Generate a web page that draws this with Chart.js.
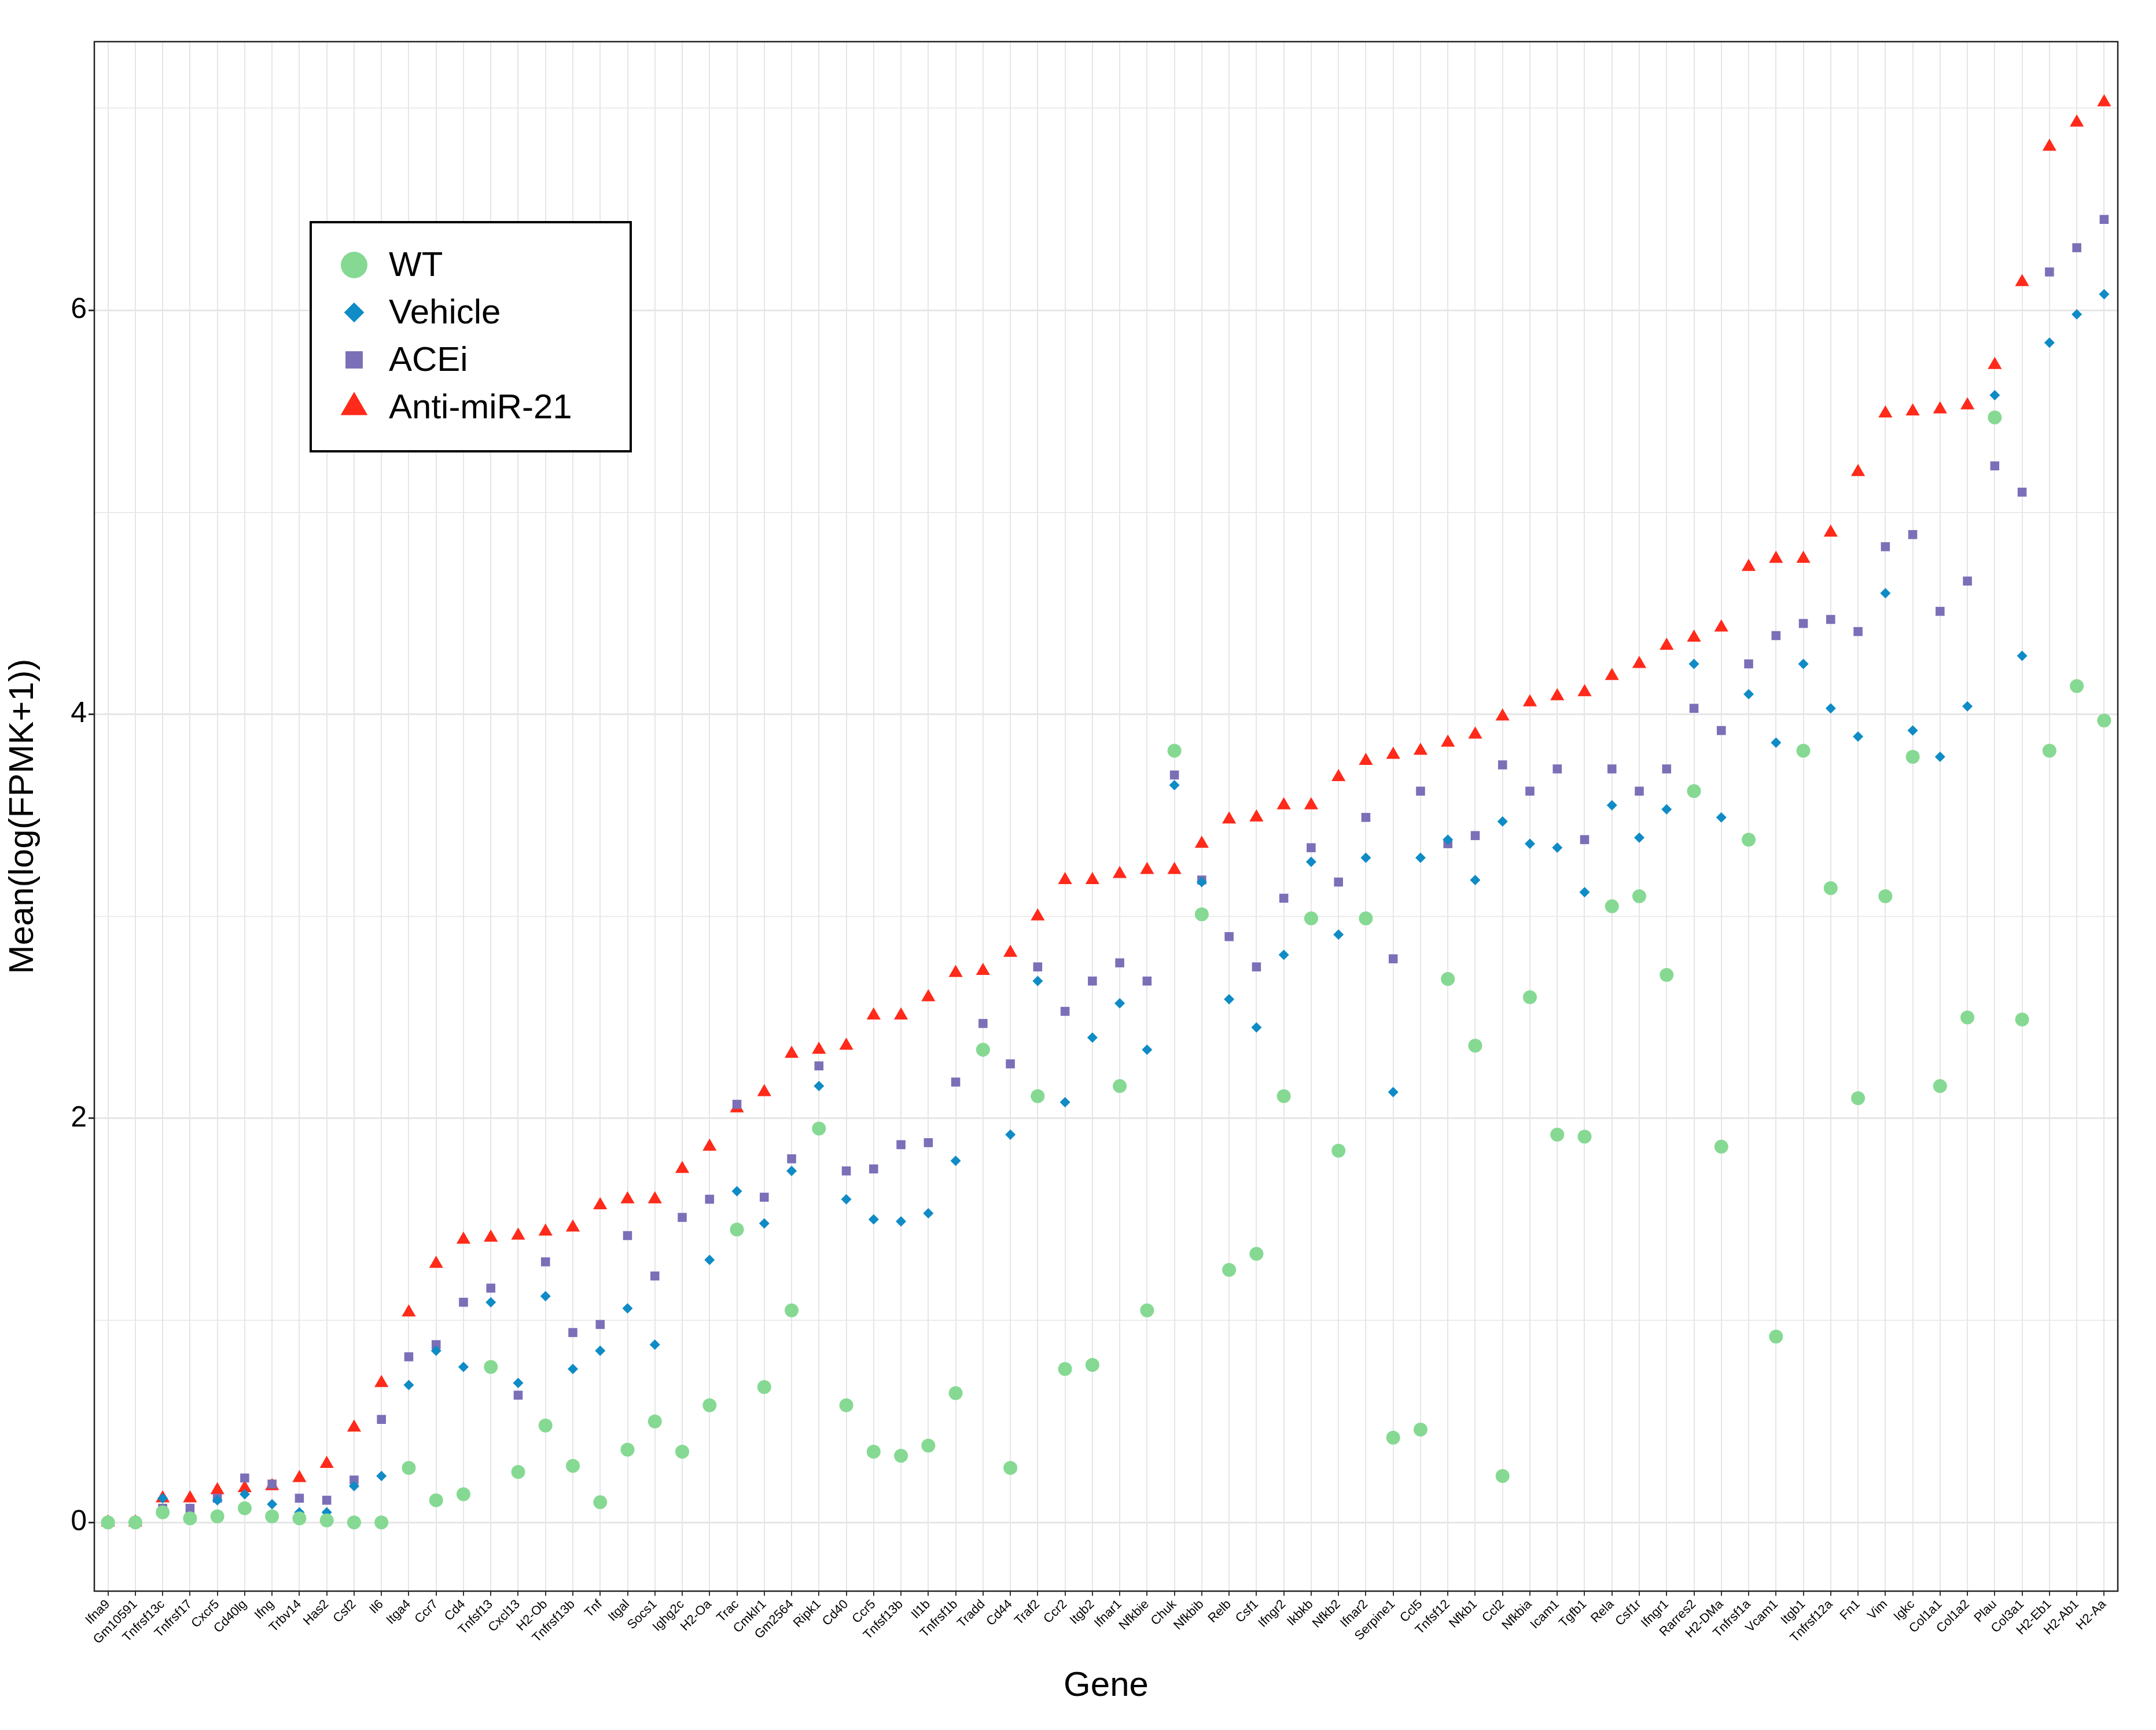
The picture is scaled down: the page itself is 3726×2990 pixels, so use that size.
<!DOCTYPE html>
<html><head><meta charset="utf-8">
<script src="https://cdn.jsdelivr.net/npm/chart.js@4/dist/chart.umd.min.js"></script>
<style>html,body{margin:0;background:#fff}#wrap{width:3726px;height:2990px}</style>
</head><body><div id="wrap"><canvas id="c"></canvas></div>
<script>
const genes = ["Ifna9","Gm10591","Tnfrsf13c","Tnfrsf17","Cxcr5","Cd40lg","Ifng","Trbv14","Has2","Csf2","Il6","Itga4","Ccr7","Cd4","Tnfsf13","Cxcl13","H2-Ob","Tnfrsf13b","Tnf","Itgal","Socs1","Ighg2c","H2-Oa","Trac","Cmklr1","Gm2564","Ripk1","Cd40","Ccr5","Tnfsf13b","Il1b","Tnfrsf1b","Tradd","Cd44","Traf2","Ccr2","Itgb2","Ifnar1","Nfkbie","Chuk","Nfkbib","Relb","Csf1","Ifngr2","Ikbkb","Nfkb2","Ifnar2","Serpine1","Ccl5","Tnfsf12","Nfkb1","Ccl2","Nfkbia","Icam1","Tgfb1","Rela","Csf1r","Ifngr1","Rarres2","H2-DMa","Tnfrsf1a","Vcam1","Itgb1","Tnfrsf12a","Fn1","Vim","Igkc","Col1a1","Col1a2","Plau","Col3a1","H2-Eb1","H2-Ab1","H2-Aa"];
const wt = [0,0,0.05,0.02,0.03,0.07,0.03,0.02,0.01,0,0,0.27,0.11,0.14,0.77,0.25,0.48,0.28,0.10,0.36,0.50,0.35,0.58,1.45,0.67,1.05,1.95,0.58,0.35,0.33,0.38,0.64,2.34,0.27,2.11,0.76,0.78,2.16,1.05,3.82,3.01,1.25,1.33,2.11,2.99,1.84,2.99,0.42,0.46,2.69,2.36,0.23,2.60,1.92,1.91,3.05,3.10,2.71,3.62,1.86,3.38,0.92,3.82,3.14,2.10,3.10,3.79,2.16,2.50,5.47,2.49,3.82,4.14,3.97];
const vehicle = [0,0,0.12,0.02,0.11,0.14,0.09,0.05,0.05,0.18,0.23,0.68,0.85,0.77,1.09,0.69,1.12,0.76,0.85,1.06,0.88,0.34,1.30,1.64,1.48,1.74,2.16,1.60,1.50,1.49,1.53,1.79,2.33,1.92,2.68,2.08,2.40,2.57,2.34,3.65,3.17,2.59,2.45,2.81,3.27,2.91,3.29,2.13,3.29,3.38,3.18,3.47,3.36,3.34,3.12,3.55,3.39,3.53,4.25,3.49,4.10,3.86,4.25,4.03,3.89,4.60,3.92,3.79,4.04,5.58,4.29,5.84,5.98,6.08];
const acei = [0,0,0.07,0.07,0.12,0.22,0.19,0.12,0.11,0.21,0.51,0.82,0.88,1.09,1.16,0.63,1.29,0.94,0.98,1.42,1.22,1.51,1.60,2.07,1.61,1.80,2.26,1.74,1.75,1.87,1.88,2.18,2.47,2.27,2.75,2.53,2.68,2.77,2.68,3.70,3.18,2.90,2.75,3.09,3.34,3.17,3.49,2.79,3.62,3.36,3.40,3.75,3.62,3.73,3.38,3.73,3.62,3.73,4.03,3.92,4.25,4.39,4.45,4.47,4.41,4.83,4.89,4.51,4.66,5.23,5.10,6.19,6.31,6.45];
const antimir = [0,0,0.12,0.12,0.16,0.17,0.18,0.22,0.29,0.47,0.69,1.04,1.28,1.40,1.41,1.42,1.44,1.46,1.57,1.60,1.60,1.75,1.86,2.05,2.13,2.32,2.34,2.36,2.51,2.51,2.60,2.72,2.73,2.82,3.00,3.18,3.18,3.21,3.23,3.23,3.36,3.48,3.49,3.55,3.55,3.69,3.77,3.80,3.82,3.86,3.90,3.99,4.06,4.09,4.11,4.19,4.25,4.34,4.38,4.43,4.73,4.77,4.77,4.90,5.20,5.49,5.50,5.51,5.53,5.73,6.14,6.81,6.93,7.03];

const series = [
  {label:'WT', data:wt, color:'#86d993', style:'circle', r:12},
  {label:'Vehicle', data:vehicle, color:'#0f8bc6', style:'rectRot', r:9},
  {label:'ACEi', data:acei, color:'#7b6fb8', style:'rect', r:11},
  {label:'Anti-miR-21', data:antimir, color:'#ff2a1a', style:'triangle', r:14}
];

const frame = {
  id:'frame',
  afterDraw(chart){
    const {ctx, chartArea:a} = chart;
    ctx.save();
    ctx.strokeStyle='#222'; ctx.lineWidth=2.5;
    ctx.strokeRect(a.left,a.top,a.right-a.left,a.bottom-a.top);
    // legend box
    const lx=537, ly=384, lw=553, lh=396;
    ctx.fillStyle='#fff'; ctx.fillRect(lx,ly,lw,lh);
    ctx.strokeStyle='#000'; ctx.lineWidth=4; ctx.strokeRect(lx,ly,lw,lh);
    ctx.font='60px "Liberation Sans", Arial, sans-serif';
    ctx.textBaseline='middle';
    series.forEach((s,i)=>{
      const y=ly+74+i*82;
      ctx.fillStyle=s.color;
      ctx.beginPath();
      Chart.helpers.drawPoint(ctx,{pointStyle:s.style,radius:s.r*1.9,borderWidth:0},lx+75,y);
      ctx.fill();
      ctx.fillStyle='#000';
      ctx.fillText(s.label,lx+135,y+2);
    });
    ctx.restore();
  }
};

new Chart(document.getElementById('c'),{
  type:'scatter',
  data:{
    labels:genes,
    datasets:series.map(s=>({
      label:s.label,
      data:s.data,
      pointStyle:s.style,
      pointRadius:s.r,
      backgroundColor:s.color,
      borderColor:s.color,
      borderWidth:0,
      showLine:false
    }))
  },
  options:{
    responsive:true, maintainAspectRatio:false, animation:false,
    devicePixelRatio:1,
    layout:{padding:{top:72,right:66,left:0,bottom:40}},
    plugins:{legend:{display:false},tooltip:{enabled:false}},
    scales:{
      x:{
        type:'category', offset:true,
        grid:{offset:false,color:'#e6e6e6',lineWidth:2,drawTicks:true,tickLength:8,tickColor:'#333'},
        border:{display:false},
        ticks:{autoSkip:false,minRotation:45,maxRotation:45,color:'#000',font:{size:22,family:'"Liberation Sans", Arial'},padding:2},
        title:{display:true,text:'Gene',color:'#000',font:{size:60,family:'"Liberation Sans", Arial'},padding:{top:0,bottom:0}},
        afterFit(s){s.height=200;}
      },
      y:{
        min:-0.34,max:7.33,
        afterBuildTicks(s){s.ticks=[0,1,2,3,4,5,6,7].map(v=>({value:v}));},
        grid:{color:'#e6e6e6',lineWidth:c=>c.tick&&c.tick.value%2===0?3:1.5,tickLength:10,tickColor:c=>c.tick&&c.tick.value%2===0?'#333':'rgba(0,0,0,0)'},
        border:{display:false},
        ticks:{color:'#000',font:{size:50,family:'"Liberation Sans", Arial'},callback:v=>v%2===0?v:''},
        title:{display:true,text:'Mean(log(FPMK+1))',color:'#000',font:{size:60,family:'"Liberation Sans", Arial'},padding:{bottom:8}},
        afterFit(s){s.width=163;}
      }
    }
  },
  plugins:[frame]
});
</script></body></html>
